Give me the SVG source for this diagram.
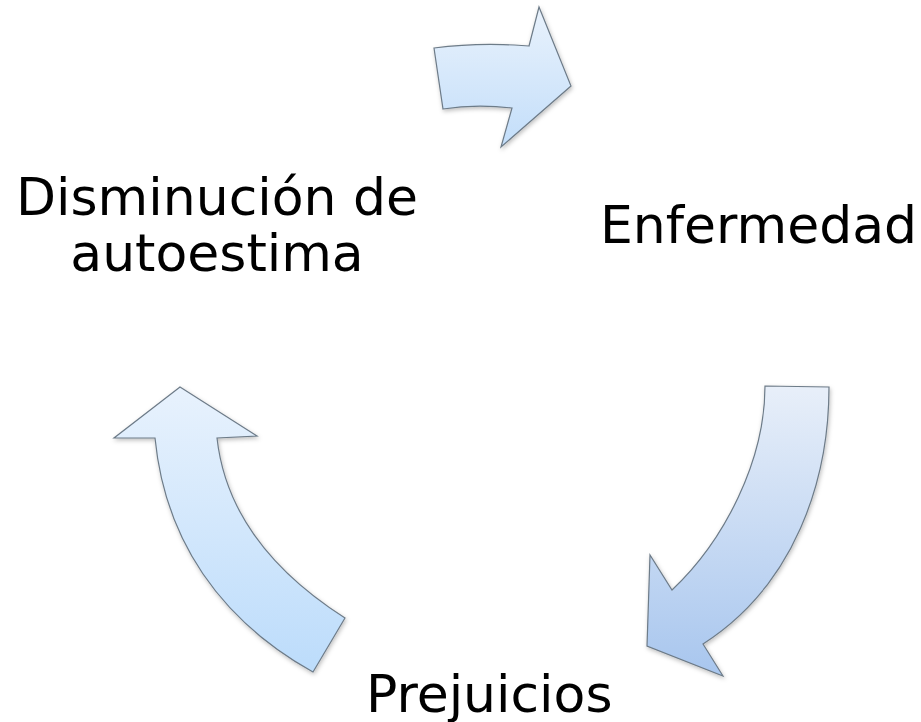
<svg xmlns="http://www.w3.org/2000/svg" width="921" height="722" viewBox="0 0 921 722">
<style>
.lbl{font-family:"DejaVu Sans","Verdana",sans-serif;font-size:52px;fill:#000}
.arr{stroke:#6d7b88;stroke-width:1.2;filter:url(#sh)}
</style>
<defs>
<linearGradient id="g1" x1="0" y1="0" x2="0" y2="1"><stop offset="0" stop-color="#e9f2fc"/><stop offset="1" stop-color="#c3defa"/></linearGradient>
<linearGradient id="g2" x1="0" y1="0" x2="0" y2="1"><stop offset="0" stop-color="#e8eff9"/><stop offset="1" stop-color="#a8c6ee"/></linearGradient>
<linearGradient id="g3" x1="0" y1="0" x2="0" y2="1"><stop offset="0" stop-color="#e8f2fd"/><stop offset="1" stop-color="#bcdcfb"/></linearGradient>
<filter id="sh" x="-20%" y="-20%" width="140%" height="140%"><feDropShadow dx="1" dy="2" stdDeviation="2" flood-color="#000" flood-opacity="0.25"/></filter>
</defs>
<g id="connectors">
<path class="arr" fill="url(#g1)" d="M434,48 Q480,42 529,46 L539,7 L571,86 L501,147 L512,108 Q475,104 443,109 Z"/>
<path class="arr" fill="url(#g2)" d="M765,386 L829,387 C829,480 795,585 703,644 L723,676 L647,646 L650,555 L672,590 C725,540 765,460 765,386 Z"/>
<path class="arr" fill="url(#g3)" d="M180,387 L257,436 L217,438 C225,510 270,570 345,618 L313,672 C220,620 165,540 155,438 L114,438 Z"/>
</g>
<g id="node-disminucion"><text class="lbl" text-anchor="middle"><tspan x="217" y="215">Disminución de</tspan><tspan x="217" y="271">autoestima</tspan></text></g>
<g id="node-enfermedad"><text class="lbl" x="600" y="243">Enfermedad</text></g>
<g id="node-prejuicios"><text class="lbl" x="366" y="712">Prejuicios</text></g>
</svg>
